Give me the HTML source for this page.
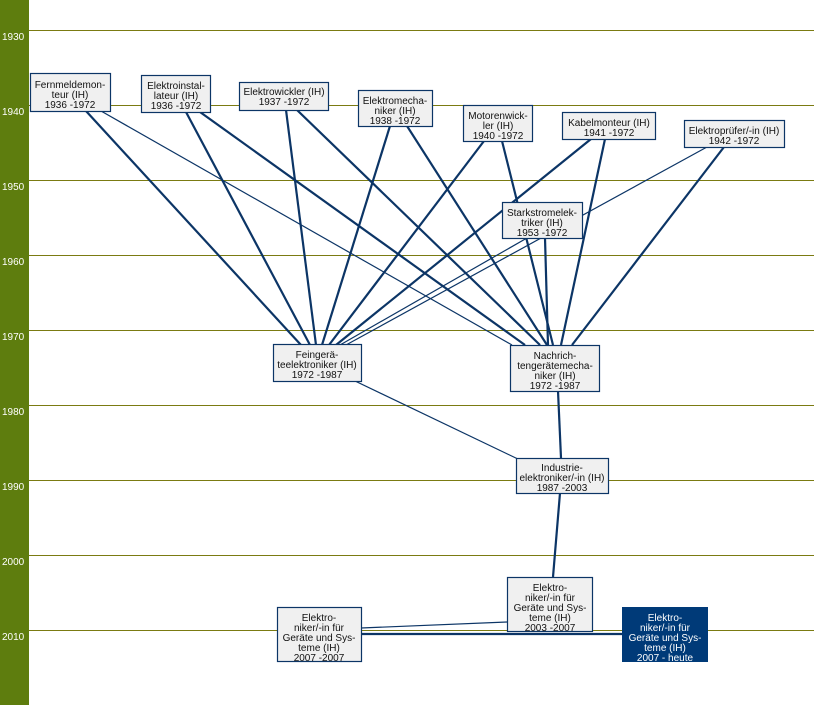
<!DOCTYPE html>
<html><head><meta charset="utf-8"><style>
body{margin:0;background:#fff;}
svg text{font-family:"Liberation Sans",sans-serif;}
</style></head><body>
<svg width="814" height="705" viewBox="0 0 814 705" xmlns="http://www.w3.org/2000/svg">
<rect x="0" y="0" width="814" height="705" fill="#fff"/>
<rect x="0" y="0" width="29" height="705" fill="#5e7d0e"/>
<g stroke="#7b7b12" stroke-width="1">
<line x1="29" y1="30.5" x2="814" y2="30.5"/>
<line x1="29" y1="105.5" x2="814" y2="105.5"/>
<line x1="29" y1="180.5" x2="814" y2="180.5"/>
<line x1="29" y1="255.5" x2="814" y2="255.5"/>
<line x1="29" y1="330.5" x2="814" y2="330.5"/>
<line x1="29" y1="405.5" x2="814" y2="405.5"/>
<line x1="29" y1="480.5" x2="814" y2="480.5"/>
<line x1="29" y1="555.5" x2="814" y2="555.5"/>
<line x1="29" y1="630.5" x2="814" y2="630.5"/>
</g>
<g fill="#fff" font-size="10">
<text x="2" y="40">1930</text><text x="2" y="115">1940</text><text x="2" y="190">1950</text>
<text x="2" y="265">1960</text><text x="2" y="340">1970</text><text x="2" y="415">1980</text>
<text x="2" y="490">1990</text><text x="2" y="565">2000</text><text x="2" y="640">2010</text>
</g>
<g stroke="#0c3566" stroke-width="2.2" fill="none">
<line x1="86" y1="111" x2="301" y2="345"/>
<line x1="186" y1="112" x2="310" y2="345"/>
<line x1="200" y1="112" x2="525" y2="345"/>
<line x1="286" y1="110" x2="316" y2="345"/>
<line x1="297" y1="110" x2="540" y2="345"/>
<line x1="390" y1="126" x2="322" y2="345"/>
<line x1="407" y1="126" x2="547" y2="345"/>
<line x1="484" y1="141" x2="329" y2="345"/>
<line x1="502" y1="141" x2="553" y2="345"/>
<line x1="591" y1="139" x2="336" y2="345"/>
<line x1="605" y1="139" x2="561" y2="345"/>
<line x1="724" y1="147" x2="572" y2="345"/>
<line x1="545" y1="238" x2="548" y2="345"/>
<line x1="558" y1="391" x2="561" y2="458"/>
<line x1="560" y1="493" x2="553" y2="577"/>
<line x1="361" y1="634" x2="622" y2="634"/>
</g>
<g stroke="#0c3566" stroke-width="1.2" fill="none">
<line x1="101" y1="111" x2="512" y2="345"/>
<line x1="707" y1="147" x2="346" y2="345"/>
<line x1="527" y1="238" x2="340" y2="345"/>
<line x1="355" y1="381" x2="520" y2="460"/>
<line x1="507" y1="622" x2="361" y2="628"/>
</g>
<g fill="#f0f0f0" stroke="#0c3566" stroke-width="1.2">
<rect x="30.5" y="73.5" width="80" height="38"/>
<rect x="141.5" y="75.5" width="69" height="37"/>
<rect x="239.5" y="82.5" width="89" height="28"/>
<rect x="358.5" y="90.5" width="74" height="36"/>
<rect x="463.5" y="105.5" width="69" height="36"/>
<rect x="562.5" y="112.5" width="93" height="27"/>
<rect x="684.5" y="120.5" width="100" height="27"/>
<rect x="502.5" y="202.5" width="80" height="36"/>
<rect x="273.5" y="344.5" width="88" height="37"/>
<rect x="510.5" y="345.5" width="89" height="46"/>
<rect x="516.5" y="458.5" width="92" height="35"/>
<rect x="507.5" y="577.5" width="85" height="54"/>
<rect x="277.5" y="607.5" width="84" height="54"/>
</g>
<rect x="622" y="607" width="86" height="55" fill="#003a78"/>
<g font-size="10" fill="#111" text-anchor="middle">
<text x="70" y="88">Fernmeldemon-</text><text x="70" y="98">teur (IH)</text><text x="70" y="108">1936 -1972</text>
<text x="176" y="89">Elektroinstal-</text><text x="176" y="99">lateur (IH)</text><text x="176" y="109">1936 -1972</text>
<text x="284" y="95">Elektrowickler (IH)</text><text x="284" y="105">1937 -1972</text>
<text x="395" y="104">Elektromecha-</text><text x="395" y="114">niker (IH)</text><text x="395" y="124">1938 -1972</text>
<text x="498" y="119">Motorenwick-</text><text x="498" y="129">ler (IH)</text><text x="498" y="139">1940 -1972</text>
<text x="609" y="126">Kabelmonteur (IH)</text><text x="609" y="136">1941 -1972</text>
<text x="734" y="134">Elektroprüfer/-in (IH)</text><text x="734" y="144">1942 -1972</text>
<text x="542" y="216">Starkstromelek-</text><text x="542" y="226">triker (IH)</text><text x="542" y="236">1953 -1972</text>
<text x="317" y="358">Feingerä-</text><text x="317" y="368">teelektroniker (IH)</text><text x="317" y="378">1972 -1987</text>
<text x="555" y="359">Nachrich-</text><text x="555" y="369">tengerätemecha-</text><text x="555" y="379">niker (IH)</text><text x="555" y="389">1972 -1987</text>
<text x="562" y="471">Industrie-</text><text x="562" y="481">elektroniker/-in (IH)</text><text x="562" y="491">1987 -2003</text>
<text x="550" y="591">Elektro-</text><text x="550" y="601">niker/-in für</text><text x="550" y="611">Geräte und Sys-</text><text x="550" y="621">teme (IH)</text><text x="550" y="631">2003 -2007</text>
<text x="319" y="621">Elektro-</text><text x="319" y="631">niker/-in für</text><text x="319" y="641">Geräte und Sys-</text><text x="319" y="651">teme (IH)</text><text x="319" y="661">2007 -2007</text>
</g>
<g font-size="10" fill="#fff" text-anchor="middle">
<text x="665" y="621">Elektro-</text><text x="665" y="631">niker/-in  für</text><text x="665" y="641">Geräte und Sys-</text><text x="665" y="651">teme (IH)</text><text x="665" y="661">2007 - heute</text>
</g>
</svg>
</body></html>
